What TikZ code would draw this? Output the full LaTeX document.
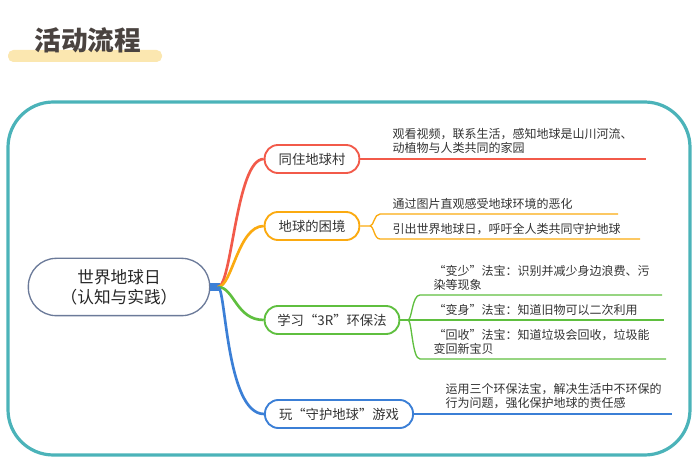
\documentclass[tikz,border=0pt]{standalone}
\usepackage{fontspec}
\setmainfont{Noto Sans CJK SC}
\usetikzlibrary{positioning}
\definecolor{frameC}{HTML}{4BB3B9}
\definecolor{rootC}{HTML}{6B7A99}
\definecolor{redC}{HTML}{F25A4A}
\definecolor{orgC}{HTML}{FBAA10}
\definecolor{grnC}{HTML}{5FBF3F}
\definecolor{bluC}{HTML}{3B7FD6}
\definecolor{titleC}{HTML}{4A4340}
\definecolor{barC}{HTML}{FBE7B0}
\tikzset{
  topic/.style={draw=#1, line width=1.4pt, rounded corners=10pt, fill=white,
    minimum height=21pt, inner xsep=8pt, font=\fontsize{10}{12}\selectfont, text=black!80},
  leaf/.style={anchor=south west, align=left, inner sep=1pt,
    font=\fontsize{9}{10.5}\selectfont, text=black!80},
  stem/.style={line width=2pt, #1},
  rule/.style={line width=1pt, #1}
}
\begin{document}
\begin{tikzpicture}[x=0.75pt,y=-0.75pt]
  \useasboundingbox (0,0) rectangle (700,463);
  % --- title ---
  \fill[barC, rounded corners=4pt] (8,50) rectangle (162,62);
  \node[font=\fontsize{20}{24}\selectfont\bfseries, text=titleC] (title) at (88,40) {活动流程};
  % --- frame ---
  \draw[frameC, line width=2.4pt, rounded corners=34pt] (8,102) rectangle (690,455);
  % --- root and topics ---
  \node[draw=rootC, line width=1pt, rounded corners=21pt, minimum width=136pt, minimum height=43pt,
    align=center, font=\fontsize{12.5}{15}\selectfont, text=black!85] (root) at (119,287) {世界地球日\\（认知与实践）};
  \fill[bluC] (210,283) rectangle (220,291);
  \coordinate (hub) at (218,287);
  \node[topic=redC, minimum width=71pt] (t1) at (312,159) {同住地球村};
  \node[topic=orgC, minimum width=71pt] (t2) at (312,226) {地球的困境};
  \node[topic=grnC, minimum width=101pt] (t3) at (332,320) {学习“3R”环保法};
  \node[topic=bluC, minimum width=111pt] (t4) at (339,414) {玩“守护地球”游戏};
  % --- stems ---
  \draw[stem=redC] (hub) .. controls (232,287) and (236,159) .. (t1.west);
  \draw[stem=orgC] (hub) .. controls (232,287) and (238,226) .. (t2.west);
  \draw[stem=grnC] (hub) .. controls (234,287) and (236,320) .. (t3.west);
  \draw[stem=bluC] (hub) .. controls (226,287) and (226,414) .. (t4.west);
  % --- branch 1 ---
  \coordinate (r1) at (646,159);
  \draw[rule=redC] (t1.east) -- (r1);
  \node[leaf] (l1) at (391,155) {观看视频，联系生活，感知地球是山川河流、\\动植物与人类共同的家园};
  % --- branch 2 ---
  \coordinate (f2) at (370,226);
  \coordinate (a2) at (380,214); \coordinate (b2) at (380,239);
  \coordinate (ra2) at (618,214); \coordinate (rb2) at (640,239);
  \draw[rule=orgC] (t2.east) -- (f2) .. controls (374,226) and (374,214) .. (a2) -- (ra2);
  \draw[rule=orgC] (f2) .. controls (374,226) and (374,239) .. (b2) -- (rb2);
  \node[leaf] (l2a) at (391,211) {通过图片直观感受地球环境的恶化};
  \node[leaf] (l2b) at (391,236) {引出世界地球日，呼吁全人类共同守护地球};
  % --- branch 3 ---
  \coordinate (f3) at (408,320);
  \coordinate (a3) at (420,295); \coordinate (c3) at (420,359);
  \coordinate (ra3) at (662,295); \coordinate (rb3) at (664,320); \coordinate (rc3) at (666,359);
  \draw[rule=grnC] (t3.east) -- (rb3);
  \draw[rule=grnC] (f3) .. controls (412,320) and (412,295) .. (a3) -- (ra3);
  \draw[rule=grnC] (f3) .. controls (412,320) and (412,359) .. (c3) -- (rc3);
  \node[leaf] (l3a) at (432,292) {“变少”法宝：识别并减少身边浪费、污\\染等现象};
  \node[leaf] (l3b) at (432,317) {“变身”法宝：知道旧物可以二次利用};
  \node[leaf] (l3c) at (432,356) {“回收”法宝：知道垃圾会回收，垃圾能\\变回新宝贝};
  % --- branch 4 ---
  \coordinate (r4) at (672,414);
  \draw[rule=bluC] (t4.east) -- (r4);
  \node[leaf] (l4) at (444,410) {运用三个环保法宝，解决生活中不环保的\\行为问题，强化保护地球的责任感};
\end{tikzpicture}
\end{document}
